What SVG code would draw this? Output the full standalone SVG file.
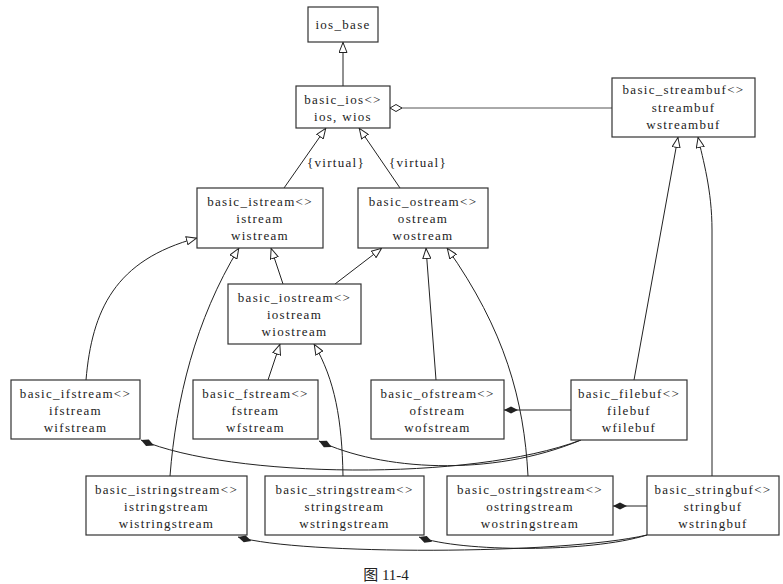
<svg xmlns="http://www.w3.org/2000/svg" width="783" height="584" viewBox="0 0 783 584">
<style>
.box rect{fill:#fff;stroke:#333;stroke-width:1.2}
text{font-family:"Liberation Serif","Noto Sans CJK SC",serif;font-size:13px;fill:#222;text-anchor:middle;letter-spacing:1.3px}
.cap{font-size:15px;letter-spacing:0}
.conn path{fill:none;stroke:#222;stroke-width:1}
.inh{marker-end:url(#tri)}
.comp{marker-start:url(#dia)}
.agg{marker-start:url(#hdia)}
</style>
<defs>
<marker id="tri" viewBox="0 0 11 9" refX="11" refY="4.5" markerWidth="11" markerHeight="9" markerUnits="userSpaceOnUse" orient="auto"><path d="M0.5,0.5 L10.5,4.5 L0.5,8.5 Z" fill="#fff" stroke="#222" stroke-width="1"/></marker>
<marker id="dia" viewBox="0 0 14 8" refX="0" refY="4" markerWidth="14" markerHeight="8" markerUnits="userSpaceOnUse" orient="auto"><path d="M0,4 L7,0.5 L14,4 L7,7.5 Z" fill="#222"/></marker>
<marker id="hdia" viewBox="0 0 13 9" refX="0.5" refY="4.5" markerWidth="13" markerHeight="9" markerUnits="userSpaceOnUse" orient="auto"><path d="M0.5,4.5 L6.5,1 L12.5,4.5 L6.5,8 Z" fill="#fff" stroke="#222" stroke-width="1"/></marker>
</defs>

<g id="connectors" class="conn">
<path class="inh" d="M343,86 L343,42"/>
<path class="inh" d="M284,188 L326,128"/>
<path class="inh" d="M400,188 L359,128"/>
<path class="agg" d="M390,108 L612,108" style="stroke:#555"/>
<path class="inh" d="M634,380 L678,137"/>
<path class="inh" d="M712,476 L712,230 C712,190 703,160 698,137"/>
<path class="inh" d="M283,284 L271,248"/>
<path class="inh" d="M335,284 L382,248"/>
<path class="inh" d="M86,380 C92,310 115,260 197,238"/>
<path class="inh" d="M170,476 C176,400 195,320 239,248"/>
<path class="inh" d="M268,380 L280,344"/>
<path class="inh" d="M343,476 C342,420 335,380 314,344"/>
<path class="inh" d="M436,380 L426,248"/>
<path class="inh" d="M528,476 C524,400 505,330 447,248"/>
<path class="comp" d="M504,410 L571,410"/>
<path class="comp" d="M613,506 L647,506"/>
<path class="comp" d="M141,440 C230,478 470,482 581,440"/>
<path class="comp" d="M319,441 C380,470 490,478 581,440"/>
<path class="comp" d="M238,537 C300,555 560,555 647,535"/>
<path class="comp" d="M419,537 C460,552 590,553 647,535"/>
</g>

<text x="336" y="167">{virtual}</text>
<text x="418" y="167">{virtual}</text>

<g id="ios_base" class="box"><rect x="308" y="7" width="70" height="35"/><text x="343" y="29">ios_base</text></g>
<g id="basic_ios" class="box"><rect x="296" y="86" width="94" height="42"/><text x="343" y="103.5">basic_ios&lt;&gt;</text><text x="343" y="121">ios, wios</text></g>
<g id="basic_streambuf" class="box"><rect x="612" y="78" width="143" height="59"/><text x="683.5" y="94">basic_streambuf&lt;&gt;</text><text x="683.5" y="111.5">streambuf</text><text x="683.5" y="129">wstreambuf</text></g>
<g id="basic_istream" class="box"><rect x="197" y="188" width="126" height="60"/><text x="260" y="205.5">basic_istream&lt;&gt;</text><text x="260" y="222.5">istream</text><text x="260" y="239.5">wistream</text></g>
<g id="basic_ostream" class="box"><rect x="358" y="188" width="130" height="60"/><text x="423" y="205.5">basic_ostream&lt;&gt;</text><text x="423" y="222.5">ostream</text><text x="423" y="239.5">wostream</text></g>
<g id="basic_iostream" class="box"><rect x="228" y="284" width="133" height="60"/><text x="294.5" y="301.5">basic_iostream&lt;&gt;</text><text x="294.5" y="318.5">iostream</text><text x="294.5" y="335.5">wiostream</text></g>
<g id="basic_ifstream" class="box"><rect x="11" y="380" width="129" height="59"/><text x="75.5" y="397.5">basic_ifstream&lt;&gt;</text><text x="75.5" y="414.5">ifstream</text><text x="75.5" y="431.5">wifstream</text></g>
<g id="basic_fstream" class="box"><rect x="193" y="380" width="125" height="59"/><text x="255.5" y="397.5">basic_fstream&lt;&gt;</text><text x="255.5" y="414.5">fstream</text><text x="255.5" y="431.5">wfstream</text></g>
<g id="basic_ofstream" class="box"><rect x="371" y="380" width="133" height="59"/><text x="437.5" y="397.5">basic_ofstream&lt;&gt;</text><text x="437.5" y="414.5">ofstream</text><text x="437.5" y="431.5">wofstream</text></g>
<g id="basic_filebuf" class="box"><rect x="571" y="380" width="116" height="60"/><text x="629" y="397.5">basic_filebuf&lt;&gt;</text><text x="629" y="414.5">filebuf</text><text x="629" y="431.5">wfilebuf</text></g>
<g id="basic_istringstream" class="box"><rect x="86" y="476" width="161" height="59"/><text x="166.5" y="493.5">basic_istringstream&lt;&gt;</text><text x="166.5" y="510.5">istringstream</text><text x="166.5" y="527.5">wistringstream</text></g>
<g id="basic_stringstream" class="box"><rect x="265" y="476" width="159" height="59"/><text x="344.5" y="493.5">basic_stringstream&lt;&gt;</text><text x="344.5" y="510.5">stringstream</text><text x="344.5" y="527.5">wstringstream</text></g>
<g id="basic_ostringstream" class="box"><rect x="447" y="476" width="166" height="59"/><text x="530" y="493.5">basic_ostringstream&lt;&gt;</text><text x="530" y="510.5">ostringstream</text><text x="530" y="527.5">wostringstream</text></g>
<g id="basic_stringbuf" class="box"><rect x="647" y="476" width="132" height="59"/><text x="713" y="493.5">basic_stringbuf&lt;&gt;</text><text x="713" y="510.5">stringbuf</text><text x="713" y="527.5">wstringbuf</text></g>

<text class="cap" x="386" y="580">图 11-4</text>
</svg>
